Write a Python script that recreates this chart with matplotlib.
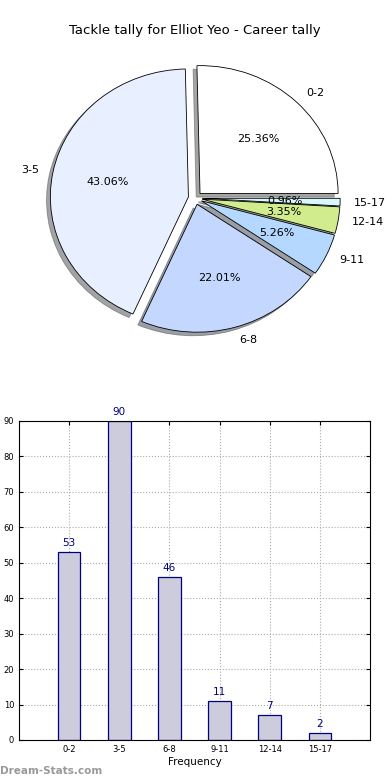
import matplotlib.pyplot as plt
import numpy as np

# DATA
categories = ["0-2", "3-5", "6-8", "9-11", "12-14", "15-17"]
tallies = [53, 90, 46, 11, 7, 2]
pie_colors = ["#ffffff", "#e8f0ff", "#c4d8ff", "#b4d8ff", "#d0ec8c", "#d8f8ff"]
title = "Tackle tally for Elliot Yeo - Career tally"

fig = plt.figure(figsize=(3.9, 7.8), dpi=100)

# PIE (old style, not equal aspect)
ax1 = fig.add_axes([0.058, 0.541, 0.885, 0.41])
wedges, texts, autotexts = ax1.pie(
    tallies, labels=categories, colors=pie_colors, explode=[0.05] * len(tallies),
    autopct="%1.2f%%", pctdistance=0.6, labeldistance=1.1, startangle=0,
    shadow=True, wedgeprops={"edgecolor": "black", "linewidth": 0.6},
    textprops={"fontsize": 8})
ax1.set_aspect("auto")
ax1.set_xlim(-1.25, 1.25)
ax1.set_ylim(-1.25, 1.25)
fig.text(0.5, 0.961, title, ha="center", va="center", fontsize=9.5)

# BARS
ax2 = fig.add_axes([0.0487, 0.0513, 0.9, 0.409])
x = np.arange(len(categories))
ax2.bar(x, tallies, width=0.45, color="#ccccdd", edgecolor="navy", linewidth=0.9, zorder=2)
for xi, v in zip(x, tallies):
    ax2.text(xi, v + 1.2, str(v), ha="center", va="bottom", color="navy", fontsize=7.5)
ax2.set_xlim(-1, 6)
ax2.set_ylim(0, 90)
ax2.set_yticks(range(0, 91, 10))
ax2.set_xticks(x)
ax2.set_xticklabels(categories)
ax2.tick_params(labelsize=6, direction="in", top=True, right=True, length=3)
ax2.grid(True, linestyle=":", color="#aaaaaa", linewidth=0.8, zorder=0)
ax2.set_axisbelow(True)
ax2.set_xlabel("Frequency", fontsize=7.5, labelpad=2)

fig.text(0.0, 0.012, "Dream-Stats.com", color="#999999", fontsize=7.5,
         fontweight="bold", ha="left", va="center")

fig.savefig("out.png", dpi=100)
